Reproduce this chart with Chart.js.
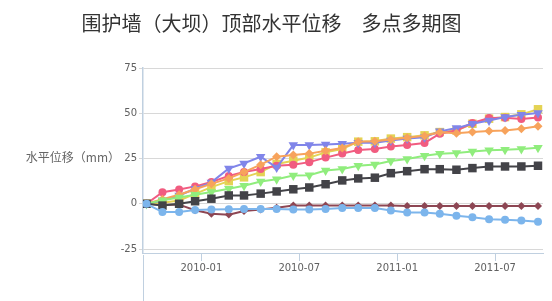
<!DOCTYPE html>
<html>
<head>
<meta charset="utf-8">
<script src="https://cdn.jsdelivr.net/npm/chart.js@4.4.1/dist/chart.umd.min.js"></script>
<style>
  html, body { margin: 0; padding: 0; background: #fff; }
</style>
</head>
<body>
<canvas id="chart" width="552" height="301"></canvas>
<script>
const titleText = '围护墙（大坝）顶部水平位移　多点多期图';
const yTitle = '水平位移（mm）';

// survey dates, one per month
const dates = [
  '2009-09-20', '2009-10-20', '2009-11-20', '2009-12-20', '2010-01-20',
  '2010-02-20', '2010-03-20', '2010-04-20', '2010-05-20', '2010-06-20',
  '2010-07-20', '2010-08-20', '2010-09-20', '2010-10-20', '2010-11-20',
  '2010-12-20', '2011-01-20', '2011-02-20', '2011-03-20', '2011-04-20',
  '2011-05-20', '2011-06-20', '2011-07-20', '2011-08-20', '2011-09-20'
];

const yTicks = [-25, 0, 25, 50, 75];

const series1 = [0, -4.6, -4.6, -3.5, -3.2, -3, -2.9, -2.9, -2.9, -3.2, -3.2, -2.9, -2.4, -2.3, -2.4, -3.7, -4.8, -4.8, -5.5, -6.6, -7.4, -8.5, -8.9, -9.2, -10];
const series2 = [0, -1, 0, 1.4, 2.8, 4.6, 4.6, 5.6, 6.8, 8, 9, 10.8, 12.9, 14, 14.4, 16.9, 18, 19.1, 19.1, 18.8, 19.7, 20.6, 20.6, 20.6, 21];
const series3 = [0, 2, 3.5, 5, 6.5, 8.3, 10, 12.3, 13.5, 15.6, 15.8, 18.4, 19.2, 21, 21.7, 23.6, 24.7, 26.5, 27.6, 28, 28.9, 29.5, 29.9, 30.2, 31];
const series4 = [0, 2.5, 5, 8, 11, 14, 17.5, 21.6, 26, 27, 27.7, 29.3, 30.8, 34.3, 34.5, 35.5, 36.5, 37.5, 39.5, 39, 39.6, 40.2, 40.5, 41.5, 42.8];
const series5 = [0, 1.8, 4.6, 8.3, 11.8, 19.5, 22.3, 26, 20, 32.4, 32.4, 32.7, 33.1, 33.7, 33.7, 35, 36, 36.8, 40, 41.8, 44.2, 46, 47.9, 49.2, 50.1];
const series6 = [0, 6.4, 7.9, 9.6, 12, 15.4, 17.5, 19.2, 21, 21.5, 23, 25.5, 27.8, 29.7, 30.2, 31.6, 32.4, 33.6, 38.7, 40.5, 44.6, 47.4, 47.5, 46.8, 47.6];
const series7 = [0, 0.5, 1.8, 5.5, 9.2, 12.5, 14.6, 17.5, 22, 23.8, 25.5, 28.4, 30.2, 34.3, 34.5, 36, 36.8, 37.8, 39.6, 40.5, 44.2, 47, 47.9, 49.4, 52.2];
const series8 = [0, -0.5, -0.5, -3.6, -5.5, -6, -4, -3.2, -2.2, -1, -1, -1, -1, -1, -1, -1, -1.2, -1.2, -1.2, -1.2, -1.2, -1.2, -1.2, -1.2, -1.3];

// date string -> months since 2009-01 (fractional)
function toMonths(s) {
  const [y, m, d] = s.split('-').map(Number);
  const days = new Date(y, m, 0).getDate();
  return (y - 2009) * 12 + (m - 1) + (d - 1) / days;
}
function monthLabel(v) {
  const y = 2009 + Math.floor(v / 12);
  const m = Math.round(v - Math.floor(v / 12) * 12) + 1;
  return y + '-' + String(m).padStart(2, '0');
}

const xs = dates.map(toMonths);
const pts = vals => vals.map((v, i) => ({ x: xs[i], y: v }));

function line(vals, color, style, radius, rotation) {
  return {
    data: pts(vals),
    borderColor: color,
    backgroundColor: color,
    borderWidth: 2,
    pointStyle: style,
    pointRadius: radius,
    pointHoverRadius: radius,
    pointRotation: rotation || 0,
    pointBorderWidth: 0,
    pointBackgroundColor: color,
    tension: 0
  };
}

const sideTitle = {
  id: 'sideTitle',
  afterDraw(chart) {
    const ctx = chart.ctx, a = chart.chartArea;
    ctx.save();
    ctx.font = '12px "Noto Sans CJK SC"';
    ctx.fillStyle = '#666666';
    ctx.textAlign = 'right';
    ctx.textBaseline = 'middle';
    ctx.fillText(yTitle, a.left - 23, (a.top + a.bottom) / 2 - 3);
    ctx.strokeStyle = '#C0D0E0';
    ctx.lineWidth = 1;
    ctx.beginPath();
    ctx.moveTo(a.left + 0.5, a.bottom + 2);
    ctx.lineTo(a.left + 0.5, chart.height);
    ctx.stroke();
    ctx.restore();
  }
};

new Chart(document.getElementById('chart').getContext('2d'), {
  type: 'line',
  data: {
    datasets: [
      line(series1, '#7cb5ec', 'circle', 4),
      line(series2, '#434348', 'rect', 6),
      line(series3, '#90ed7d', 'triangle', 5.5, 180),
      line(series4, '#f7a35c', 'rectRot', 4.5),
      line(series5, '#8085e9', 'triangle', 5.5, 180),
      line(series6, '#f15c80', 'circle', 4),
      line(series7, '#e4d354', 'rect', 6),
      line(series8, '#8d4653', 'rectRot', 4)
    ]
  },
  options: {
    responsive: false,
    animation: false,
    layout: { padding: { left: 0, right: 9, top: 0, bottom: 0 } },
    plugins: {
      legend: { display: false },
      tooltip: { enabled: false },
      title: {
        display: true,
        text: titleText,
        color: '#333333',
        font: { family: '"Noto Sans CJK SC"', size: 20, weight: 'normal' },
        padding: { top: 11, bottom: 33 }
      }
    },
    scales: {
      x: {
        type: 'linear',
        min: 8.42,
        max: 32.94,
        afterFit(scale) { scale.height = 48; },
        grid: { drawOnChartArea: false, color: '#C0D0E0', tickLength: 8 },
        border: { color: '#C0D0E0' },
        ticks: {
          stepSize: 6,
          includeBounds: false,
          padding: 1,
          color: '#606060',
          font: { family: '"DejaVu Sans"', size: 10 },
          callback: v => monthLabel(v)
        }
      },
      y: {
        min: -27.2,
        max: 75,
        afterFit(scale) { scale.width = 143; },
        afterBuildTicks(scale) { scale.ticks = yTicks.map(v => ({ value: v })); },
        grid: { color: '#D8D8D8', tickLength: 4 },
        border: { color: '#C0D0E0', width: 1.5 },
        ticks: {
          padding: 2,
          color: '#606060',
          font: { family: '"DejaVu Sans"', size: 10 }
        }
      }
    }
  },
  plugins: [sideTitle]
});
</script>
</body>
</html>
